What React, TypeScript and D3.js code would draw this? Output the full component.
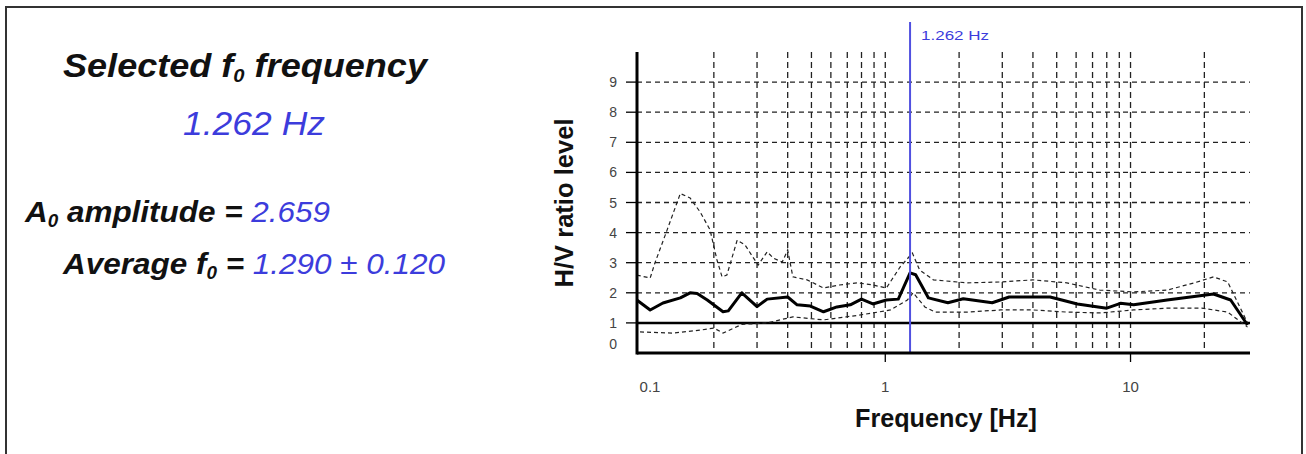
import React from 'react';
import * as d3 from 'd3';

// H/V spectral ratio values
const meanFreq = [0.097, 0.11, 0.124, 0.146, 0.16, 0.171, 0.188, 0.218, 0.229, 0.26, 0.3, 0.33, 0.4, 0.437, 0.495, 0.56, 0.635, 0.72, 0.8, 0.89, 1.01, 1.13, 1.262, 1.33, 1.5, 1.8, 2.08, 2.73, 3.2, 4.7, 6.07, 8.0, 9.1, 10.3, 14.1, 21.8, 25.6, 30];
const meanHV = [1.76, 1.43, 1.66, 1.83, 2.0, 1.98, 1.76, 1.37, 1.4, 2.0, 1.54, 1.79, 1.86, 1.6, 1.56, 1.37, 1.53, 1.6, 1.79, 1.63, 1.76, 1.79, 2.66, 2.6, 1.83, 1.67, 1.8, 1.67, 1.86, 1.86, 1.63, 1.49, 1.65, 1.6, 1.76, 1.96, 1.76, 0.93];

const upperFreq = [0.097, 0.11, 0.115, 0.129, 0.146, 0.16, 0.176, 0.193, 0.206, 0.216, 0.226, 0.249, 0.268, 0.303, 0.33, 0.35, 0.38, 0.4, 0.42, 0.48, 0.56, 0.65, 0.77, 0.89, 1.01, 1.15, 1.29, 1.38, 1.57, 2.16, 2.96, 4.0, 5.5, 7.5, 10.3, 14.1, 18.2, 21.8, 24.9, 30];
const upperHV = [2.59, 2.49, 2.99, 4.09, 5.3, 5.15, 4.68, 4.09, 3.09, 2.53, 2.59, 3.75, 3.59, 2.92, 3.36, 3.15, 3.02, 3.42, 2.53, 2.43, 2.16, 2.26, 2.33, 2.26, 2.16, 2.86, 3.32, 2.76, 2.43, 2.33, 2.36, 2.43, 2.33, 2.09, 2.03, 2.09, 2.33, 2.53, 2.36, 1.0];

const lowerFreq = [0.1, 0.136, 0.176, 0.2, 0.218, 0.26, 0.33, 0.42, 0.56, 0.77, 0.89, 1.05, 1.23, 1.3, 1.45, 1.6, 2.16, 2.96, 4.0, 5.5, 7.5, 10.3, 14.1, 19.5, 24.9, 30];
const lowerHV = [0.7, 0.66, 0.76, 0.83, 0.66, 0.95, 1.0, 1.2, 1.1, 1.25, 1.33, 1.43, 1.76, 2.0, 1.53, 1.36, 1.36, 1.43, 1.43, 1.36, 1.33, 1.43, 1.49, 1.49, 1.36, 0.86];

const xTickValues = [0.1, 1, 10];
const xTickLabels = ['0.1', '1', '10'];
const gridFreqs = [0.2, 0.3, 0.4, 0.5, 0.6, 0.7, 0.8, 0.9, 1, 2, 3, 4, 5, 6, 7, 8, 9, 10, 20];
const yTicks = [0, 1, 2, 3, 4, 5, 6, 7, 8, 9];

const f0 = 1.262;
const f0Label = '1.262 Hz';
const amplitude = '2.659';
const averageF0 = '1.290 ± 0.120';

const BLUE = '#3c3cdc';
const FONT = 'Arial, "Liberation Sans", sans-serif';

const App = () => {
  // scales
  const x = d3.scaleLog().domain([0.0972, 30.7]).range([637, 1250]);
  const y = d3.scaleLinear().domain([0, 10]).range([353, 52]);

  const line = d3
    .line<[number, number]>()
    .x((d) => x(d[0]))
    .y((d) => y(d[1]));

  const meanPts = meanFreq.map((f, i) => [f, meanHV[i]] as [number, number]);
  const upperPts = upperFreq.map((f, i) => [f, upperHV[i]] as [number, number]);
  const lowerPts = lowerFreq.map((f, i) => [f, lowerHV[i]] as [number, number]);

  const [x0, x1] = x.range();
  const yTop = y(10);
  const yBase = y(0);

  return (
    <svg
      width={1306}
      height={454}
      style={{ position: 'absolute', left: 0, top: 0, background: '#fff' }}
      fontFamily={FONT}
    >
      {/* outer frame */}
      <rect x={6} y={7} width={1296} height={470} fill="none" stroke="#333" strokeWidth={2} />

      {/* left summary text */}
      <text x={63} y={77} fontSize={34} fontWeight="bold" fontStyle="italic" fill="#111" textLength={364} lengthAdjust="spacingAndGlyphs">
        Selected f<tspan fontSize={19} dy={5}>0</tspan>
        <tspan dy={-5}> frequency</tspan>
      </text>
      <text x={183} y={135} fontSize={34} fontStyle="italic" fill={BLUE} textLength={142} lengthAdjust="spacingAndGlyphs">
        {f0Label}
      </text>
      <text x={25} y={222} fontSize={30} fontWeight="bold" fontStyle="italic" fill="#111" textLength={305} lengthAdjust="spacingAndGlyphs">
        A<tspan fontSize={18} dy={5}>0</tspan>
        <tspan dy={-5}> amplitude = </tspan>
        <tspan fontWeight="normal" fill={BLUE}>{amplitude}</tspan>
      </text>
      <text x={63} y={274} fontSize={30} fontWeight="bold" fontStyle="italic" fill="#111" textLength={382} lengthAdjust="spacingAndGlyphs">
        Average f<tspan fontSize={18} dy={5}>0</tspan>
        <tspan dy={-5}> = </tspan>
        <tspan fontWeight="normal" fill={BLUE}>{averageF0}</tspan>
      </text>

      {/* horizontal grid */}
      {yTicks.filter((t) => t >= 2).map((t) => (
        <line key={'h' + t} x1={x0} x2={x1} y1={y(t)} y2={y(t)} stroke="#222" strokeWidth={1.3} strokeDasharray="5,4" />
      ))}
      {/* vertical grid */}
      {gridFreqs.map((f) => (
        <line key={'v' + f} x1={x(f)} x2={x(f)} y1={yTop} y2={yBase} stroke="#222" strokeWidth={1.3} strokeDasharray="6,4" />
      ))}

      {/* H/V = 1 reference */}
      <line x1={x0} x2={x1} y1={y(1)} y2={y(1)} stroke="#000" strokeWidth={2.5} />

      {/* std curves */}
      <path d={line(upperPts) || ''} fill="none" stroke="#222" strokeWidth={1.2} strokeDasharray="4,3" />
      <path d={line(lowerPts) || ''} fill="none" stroke="#222" strokeWidth={1.2} strokeDasharray="4,3" />
      {/* average curve */}
      <path d={line(meanPts) || ''} fill="none" stroke="#000" strokeWidth={3} strokeLinejoin="round" />

      {/* selected f0 */}
      <line x1={x(f0)} x2={x(f0)} y1={22} y2={yBase} stroke="#5050e0" strokeWidth={2} />
      <text x={x(f0) + 11} y={40} fontSize={12} fill={BLUE} textLength={68} lengthAdjust="spacingAndGlyphs">
        {f0Label}
      </text>

      {/* axes */}
      <line x1={x0} x2={x0} y1={yTop} y2={yBase + 1.5} stroke="#000" strokeWidth={3} />
      <line x1={x0} x2={x1} y1={yBase} y2={yBase} stroke="#000" strokeWidth={3} />

      {/* y ticks */}
      {yTicks.map((t) => (
        <g key={'yt' + t}>
          {t > 0 && <line x1={x0 - 11} x2={x0} y1={y(t)} y2={y(t)} stroke="#000" strokeWidth={1.3} />}
          <text x={617} y={t === 0 ? y(t) - 9 : y(t)} dy="0.36em" textAnchor="end" fontSize={14} fill="#444">
            {t}
          </text>
        </g>
      ))}

      {/* x ticks */}
      {xTickValues.map((v, i) => (
        <g key={'xt' + v}>
          {v > 0.1 && <line x1={x(v)} x2={x(v)} y1={yBase} y2={yBase + 9} stroke="#000" strokeWidth={1.3} />}
          <text x={x(v) + (v === 0.1 ? 10 : 0)} y={392} textAnchor="middle" fontSize={15} fill="#444">
            {xTickLabels[i]}
          </text>
        </g>
      ))}

      {/* axis titles */}
      <text x={946} y={427} textAnchor="middle" fontSize={25} fontWeight="bold" fill="#111" textLength={182} lengthAdjust="spacingAndGlyphs">
        Frequency [Hz]
      </text>
      <text
        transform="translate(573,203) rotate(-90)"
        textAnchor="middle"
        fontSize={25}
        fontWeight="bold"
        fill="#111"
        textLength={169}
        lengthAdjust="spacingAndGlyphs"
      >
        H/V ratio level
      </text>
    </svg>
  );
};

export default App;
